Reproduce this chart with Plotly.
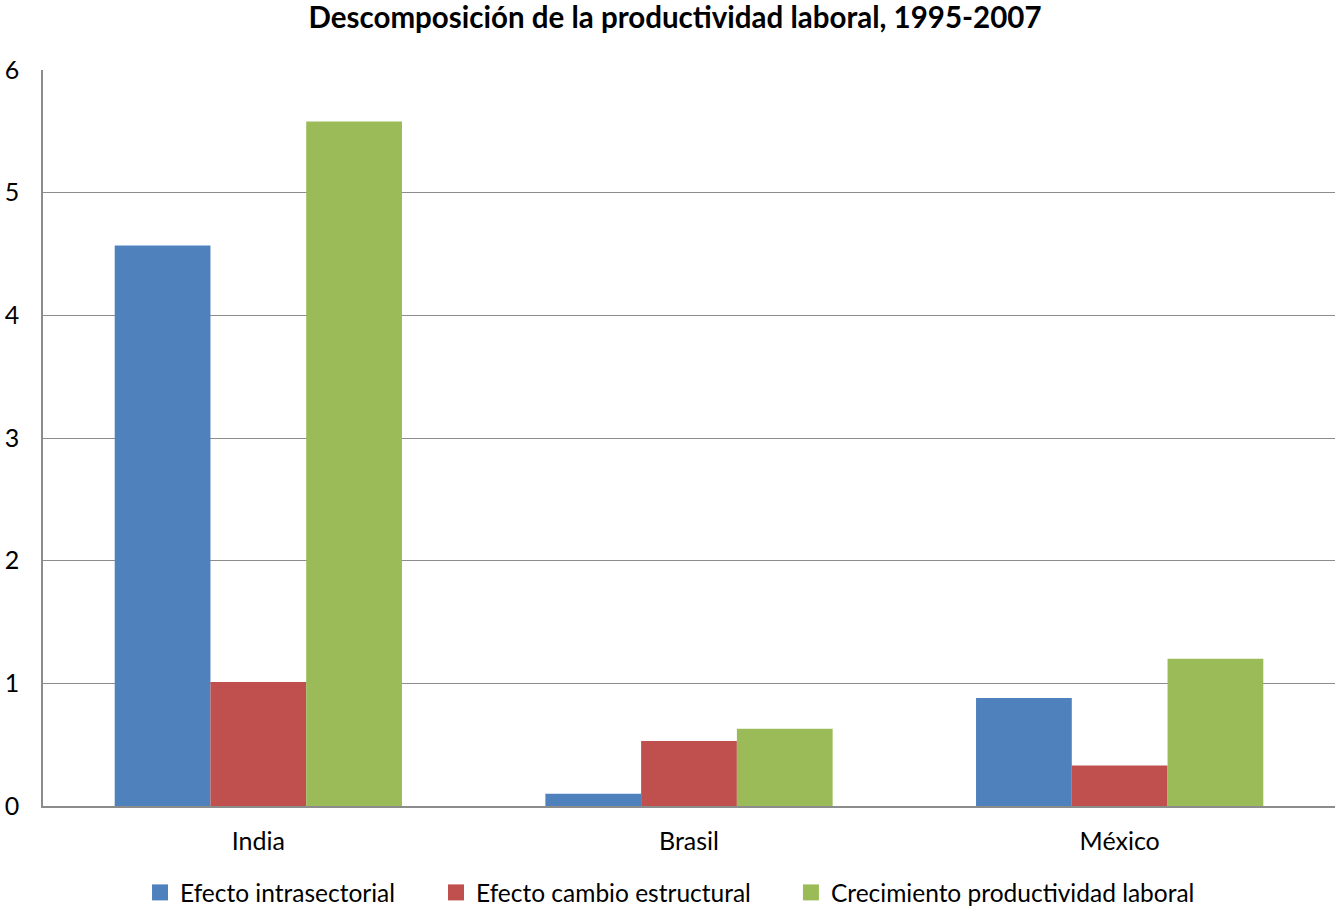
import plotly.graph_objects as go

categories = ["India", "Brasil", "México"]
series_names = ["Efecto intrasectorial", "Efecto cambio estructural", "Crecimiento productividad laboral"]
intrasectorial = [4.57, 0.10, 0.88]
cambio_estructural = [1.01, 0.53, 0.33]
crecimiento = [5.58, 0.63, 1.20]
colors = ["#4F81BD", "#C0504D", "#9BBB59"]

FONT = "Lato"
W, H = 1342, 909
legend_ids = ["legend", "legend2", "legend3"]
legend_x = [0.0751, 0.3042, 0.5789]

fig = go.Figure()
for name, vals, col, lg in zip(series_names, [intrasectorial, cambio_estructural, crecimiento], colors, legend_ids):
    fig.add_trace(go.Bar(name=name, x=categories, y=vals, showlegend=False,
                         marker=dict(color=col, line=dict(width=0))))
    # legend-only entry with a larger square swatch
    fig.add_trace(go.Scatter(name=name, x=[None], y=[None], mode="markers", legend=lg,
                             marker=dict(symbol="square", size=16, color=col), hoverinfo="skip"))

legend_common = dict(orientation="h", xanchor="left", y=-0.1175, yanchor="middle",
                     font=dict(family=FONT, size=24.5, color="black"), itemwidth=30,
                     bgcolor="rgba(0,0,0,0)")

fig.update_layout(
    width=W, height=H,
    barmode="group", bargap=0.333, bargroupgap=0,
    paper_bgcolor="white", plot_bgcolor="white",
    margin=dict(l=43, r=7, t=70, b=103, autoexpand=False),
    title=dict(text="<b>Descomposición de la productividad laboral, 1995-2007</b>",
               x=0.503, xanchor="center", xref="container", y=1 - 18 / H, yanchor="middle", yref="container",
               font=dict(family=FONT, size=29.5, color="black")),
    font=dict(family=FONT, size=25, color="black"),
    legend=dict(x=legend_x[0], **legend_common),
    legend2=dict(x=legend_x[1], **legend_common),
    legend3=dict(x=legend_x[2], **legend_common),
    yaxis=dict(range=[0, 6], dtick=1, showgrid=True, gridcolor="#8C8C8C", gridwidth=1.3,
               showline=True, linecolor="#8C8C8C", linewidth=1.5, zeroline=False, automargin=False,
               ticks="", ticklabelstandoff=17, tickfont=dict(size=25)),
    xaxis=dict(showline=True, linecolor="#8C8C8C", linewidth=2, ticks="", automargin=False,
               ticklabelstandoff=12, tickfont=dict(size=25)),
)

fig.write_html("out.html", config={"displayModeBar": False},
               post_script="document.body.style.margin='0px';")
